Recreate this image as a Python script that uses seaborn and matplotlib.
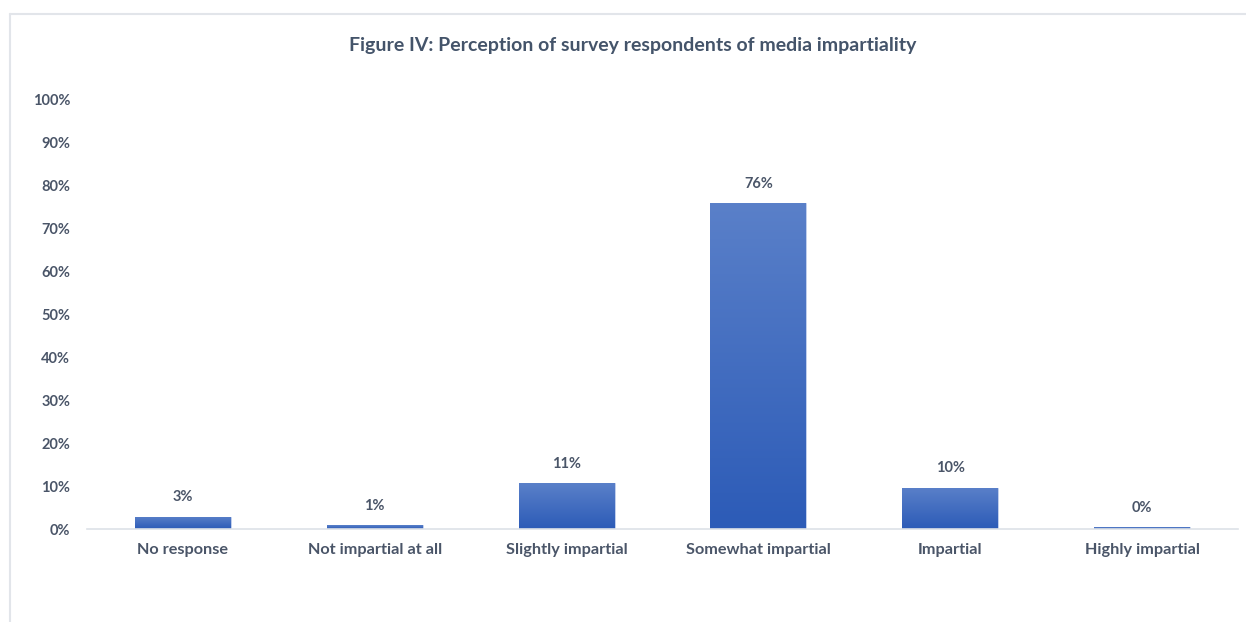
import numpy as np
import pandas as pd
import matplotlib
matplotlib.use("Agg")
import matplotlib.pyplot as plt
from matplotlib.lines import Line2D
from matplotlib.colors import LinearSegmentedColormap
import seaborn as sns

categories = ["No response", "Not impartial at all", "Slightly impartial",
              "Somewhat impartial", "Impartial", "Highly impartial"]
shares = [2.8, 0.9, 10.6, 75.8, 9.6, 0.4]
ytick_values = [0, 10, 20, 30, 40, 50, 60, 70, 80, 90, 100]
title = "Figure IV: Perception of survey respondents of media impartiality"

df = pd.DataFrame({"category": categories, "share": shares})

sns.set_theme(style="white")
plt.rcParams["font.family"] = ["Lato", "DejaVu Sans"]

text_color = "#4a5568"
fig = plt.figure(figsize=(12.46, 6.22), dpi=100)
ax = fig.add_axes([87 / 1246, 0.1495, 1151 / 1246, 0.6913])

sns.barplot(data=df, x="category", y="share", color="#3f6cc6", width=0.5,
            saturation=1, ax=ax, zorder=2)

# vertical gradient fill for each bar
cmap = LinearSegmentedColormap.from_list("bar", ["#2c5bb7", "#5a80c9"])
grad = np.linspace(0, 1, 256).reshape(-1, 1)
for patch in ax.patches:
    x0, y0 = patch.get_x(), patch.get_y()
    w, h = patch.get_width(), patch.get_height()
    patch.set_edgecolor("#c9d5ee")
    patch.set_linewidth(0.6)
    top = max(h, 0.01)
    im = ax.imshow(grad, cmap=cmap, extent=[x0, x0 + w, y0, y0 + top],
                   origin="lower", aspect="auto", zorder=2.5,
                   vmin=0, vmax=1)
    im.set_clip_path(patch)

ax.set_xlim(-0.5, len(categories) - 0.5)
ax.set_ylim(0, 100)
ax.set_yticks(ytick_values)
ax.set_yticklabels([f"{v}%" for v in ytick_values])
ax.set_xlabel("")
ax.set_ylabel("")

for s in ["top", "right", "left"]:
    ax.spines[s].set_visible(False)
ax.spines["bottom"].set_color("#dde1e7")
ax.spines["bottom"].set_linewidth(1.2)
ax.tick_params(axis="y", length=0, pad=12, labelsize=10.5, colors=text_color)
ax.tick_params(axis="x", length=0, pad=10, labelsize=11.7, colors=text_color)
for lbl in ax.get_yticklabels() + ax.get_xticklabels():
    lbl.set_fontweight("bold")

for i, v in enumerate(shares):
    ax.annotate(f"{v:.0f}%", (i, v), xytext=(0, 9), textcoords="offset points",
                ha="center", va="bottom", fontsize=10.5, fontweight="bold",
                color=text_color)

fig.text(0.508, 0.927, title, ha="center", va="center", fontsize=14,
         fontweight="bold", color="#44546a")

# card border along the top and left edges
fig.add_artist(Line2D([10 / 1246, 1.0], [1 - 14 / 622, 1 - 14 / 622],
                      transform=fig.transFigure, color="#e2e5ea", lw=1.5))
fig.add_artist(Line2D([10 / 1246, 10 / 1246], [0.0, 1 - 14 / 622],
                      transform=fig.transFigure, color="#e2e5ea", lw=1.5))

fig.savefig("out.png", dpi=100)
